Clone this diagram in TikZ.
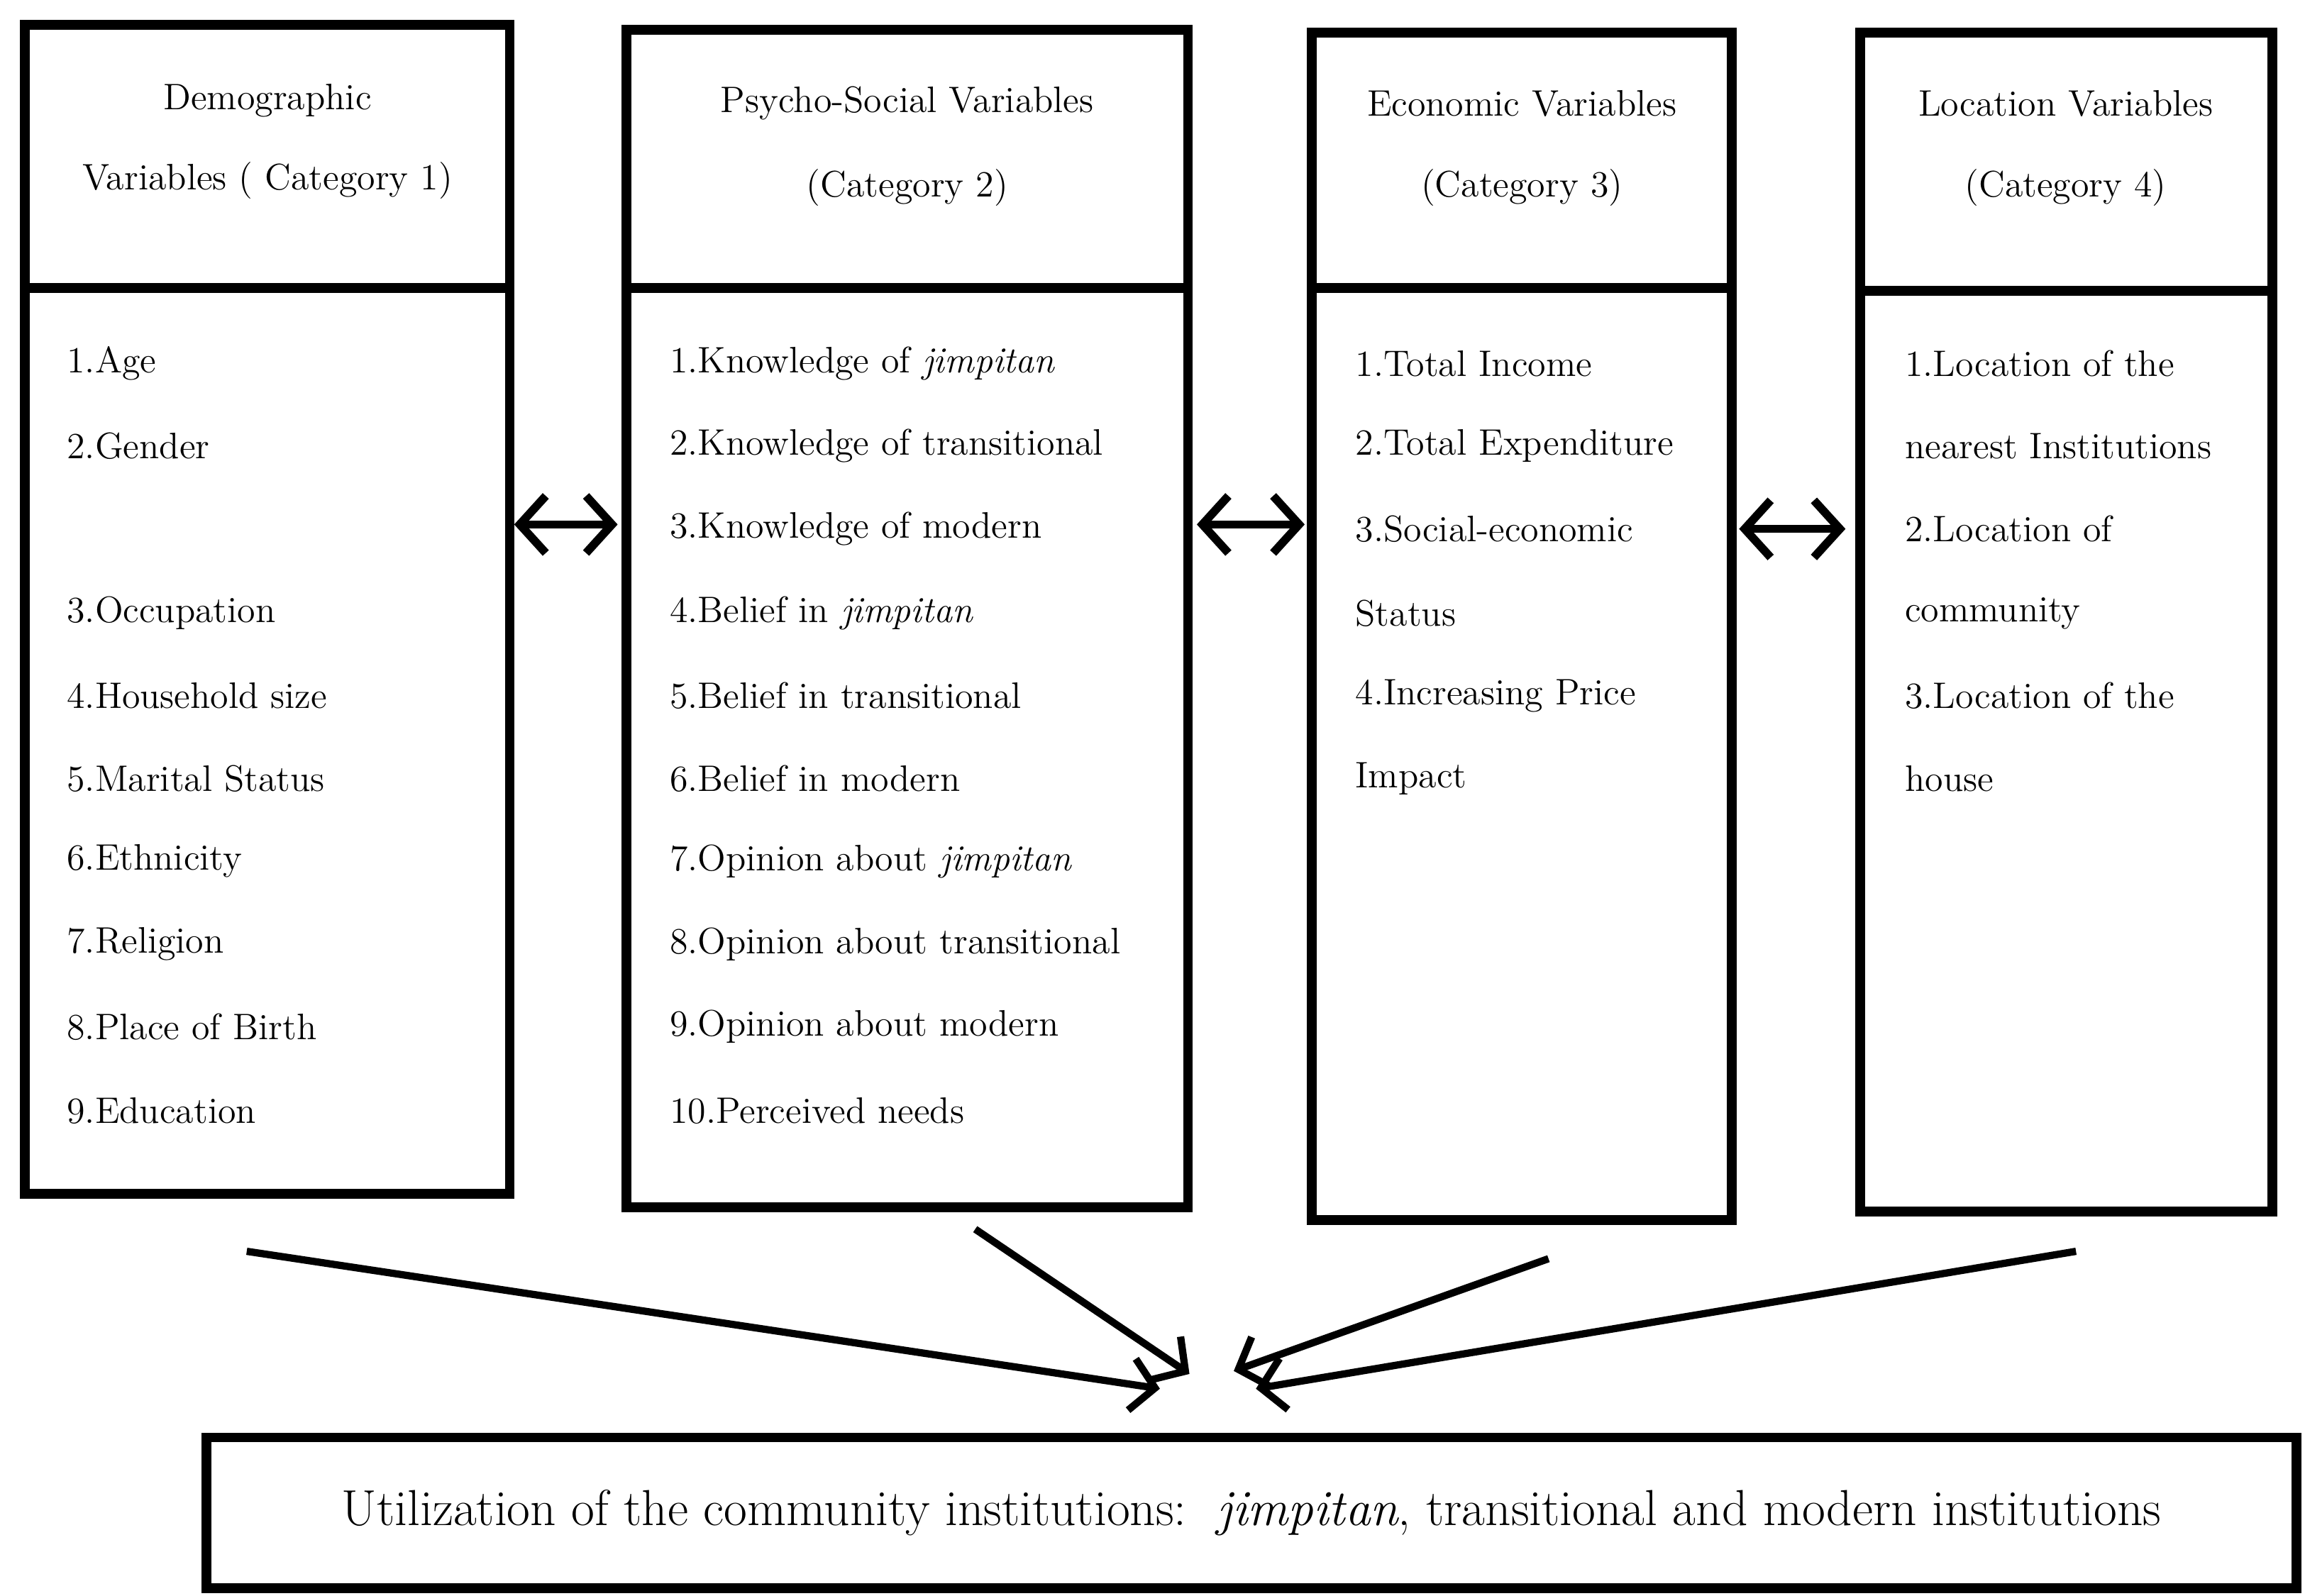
\documentclass[tikz,border=0pt]{standalone}
\usepackage{tikz}
\usetikzlibrary{arrows.meta}
\tikzset{
  box/.style={line width=3.8pt},
  item/.style={anchor=west, inner sep=0pt, font=\fontsize{14.2}{16}\selectfont},
  head/.style={anchor=center, inner sep=0pt, font=\fontsize{14.2}{16}\selectfont},
  link/.style={line width=3.2pt, {Straight Barb[length=10pt,width=22pt,line width=3.2pt]}-{Straight Barb[length=10pt,width=22pt,line width=3.2pt]}},
  flow/.style={line width=2.8pt, -{Straight Barb[length=9pt,width=20pt,line width=2.8pt]}}
}
\begin{document}
\begin{tikzpicture}[x=0.02cm, y=-0.02cm]
\useasboundingbox (0, 0) rectangle (1560, 1080);
%%% The four category boxes
\draw[box] (17, 17) rectangle (345, 808);
\draw[box] (17, 195) -- (345, 195);
\draw[box] (424, 20) rectangle (804, 817);
\draw[box] (424, 195) -- (804, 195);
\draw[box] (888, 22) rectangle (1172, 826);
\draw[box] (888, 195) -- (1172, 195);
\draw[box] (1259, 22) rectangle (1538, 820);
\draw[box] (1259, 197) -- (1538, 197);
%%% The headers
\node[head] (h1a) at (181, 68) {Demographic};
\node[head] (h1b) at (181, 122) {Variables ( Category 1)};
\node[head] (h2a) at (614, 70) {Psycho-Social Variables};
\node[head] (h2b) at (614, 127) {(Category 2)};
\node[head] (h3a) at (1030, 70) {Economic Variables};
\node[head] (h3b) at (1030, 127) {(Category 3)};
\node[head] (h4a) at (1398, 70) {Location Variables};
\node[head] (h4b) at (1398, 127) {(Category 4)};
%%%%%% Items of category 1
\node[item] (d1) at (45, 246) {1.Age};
\node[item] (d2) at (45, 302) {2.Gender};
\node[item] (d3) at (45, 415) {3.Occupation};
\node[item] (d4) at (45, 471) {4.Household size};
\node[item] (d5) at (45, 527) {5.Marital Status};
\node[item] (d6) at (45, 583) {6.Ethnicity};
\node[item] (d7) at (45, 639) {7.Religion};
\node[item] (d8) at (45, 695) {8.Place of Birth};
\node[item] (d9) at (45, 752) {9.Education};
%%%%%% Items of category 2
\node[item] (p1) at (453, 246) {1.Knowledge of \textit{jimpitan}};
\node[item] (p2) at (453, 302) {2.Knowledge of transitional};
\node[item] (p3) at (453, 358) {3.Knowledge of modern};
\node[item] (p4) at (453, 415) {4.Belief in \textit{jimpitan}};
\node[item] (p5) at (453, 471) {5.Belief in transitional};
\node[item] (p6) at (453, 527) {6.Belief in modern};
\node[item] (p7) at (453, 583) {7.Opinion about \textit{jimpitan}};
\node[item] (p8) at (453, 639) {8.Opinion about transitional};
\node[item] (p9) at (453, 695) {9.Opinion about modern};
\node[item] (p10) at (453, 752) {10.Perceived needs};
%%%%%% Items of category 3
\node[item] (e1) at (917, 246) {1.Total Income};
\node[item] (e2) at (917, 302) {2.Total Expenditure};
\node[item] (e3) at (917, 358) {3.Social-economic};
\node[item] (e3b) at (917, 415) {Status};
\node[item] (e4) at (917, 471) {4.Increasing Price};
\node[item] (e4b) at (917, 527) {Impact};
%%%%%% Items of category 4
\node[item] (l1) at (1289, 246) {1.Location of the};
\node[item] (l1b) at (1289, 302) {nearest Institutions};
\node[item] (l2) at (1289, 358) {2.Location of};
\node[item] (l2b) at (1289, 415) {community};
\node[item] (l3) at (1289, 471) {3.Location of the};
\node[item] (l3b) at (1289, 527) {house};
%%% The outcome box
\node[draw, line width=3.8pt, minimum width=28.3cm, minimum height=2.04cm,
  font=\fontsize{19.5}{22}\selectfont] (use) at (847, 1024)
  {Utilization of the community institutions:\ \ \textit{jimpitan}, transitional and modern institutions};
%%%%%% Links between the categories
\coordinate (a1) at (348, 355); \coordinate (b1) at (418, 355);
\coordinate (a2) at (810, 355); \coordinate (b2) at (883, 355);
\coordinate (a3) at (1177, 358); \coordinate (b3) at (1249, 358);
\draw[link] (a1) -- (b1);
\draw[link] (a2) -- (b2);
\draw[link] (a3) -- (b3);
%%%%%% Flows towards the outcome
\coordinate (s1) at (167, 847); \coordinate (t1) at (785, 940);
\coordinate (s2) at (660, 832); \coordinate (t2) at (805, 930);
\coordinate (s3) at (1048, 852); \coordinate (t3) at (835, 928);
\coordinate (s4) at (1405, 847); \coordinate (t4) at (850, 940);
\draw[flow] (s1) -- (t1);
\draw[flow] (s2) -- (t2);
\draw[flow] (s3) -- (t3);
\draw[flow] (s4) -- (t4);
\end{tikzpicture}
\end{document}
